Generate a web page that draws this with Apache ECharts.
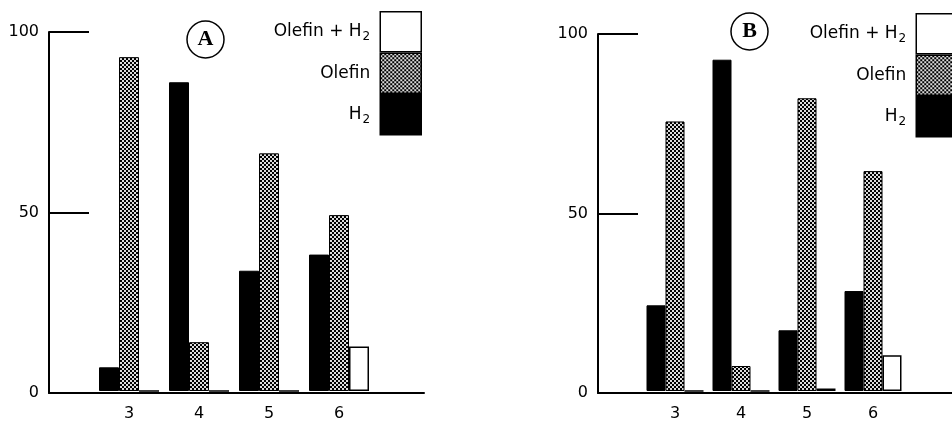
<!DOCTYPE html>
<html>
<head>
<meta charset="utf-8">
<script src="https://cdn.jsdelivr.net/npm/echarts@6/dist/echarts.min.js"></script>
<style>html,body{margin:0;padding:0;background:#fff}#c{width:952px;height:422px}</style>
</head>
<body>
<div id="c"></div>
<script>
// ---- data ----
const categories = ['3', '4', '5', '6'];
const seriesNames = ['H2', 'Olefin', 'Olefin + H2'];
const legendOrder = ['Olefin + H2', 'Olefin', 'H2'];
const panelLabels = ['A', 'B'];
const aH2 = [6.6, 86, 33.5, 38];
const aOlefin = [93, 13.6, 66.2, 49];
const aBoth = [0, 0, 0, 12.4];
const bH2 = [24, 92.8, 17, 28];
const bOlefin = [75.5, 7, 82, 61.6];
const bBoth = [0, 0, 0.7, 10];
const yMin = 0, yMax = 100, yStep = 50;

// ---- styles ----
function makePattern() {
  const c = document.createElement('canvas');
  c.width = 4; c.height = 4;
  const g = c.getContext('2d');
  g.fillStyle = '#dcdcdc'; g.fillRect(0, 0, 4, 4);
  g.fillStyle = '#000'; g.fillRect(0, 0, 2, 2); g.fillRect(2, 2, 2, 2);
  return c;
}
const pattern = { image: makePattern(), repeat: 'repeat' };
const FONT = 'DejaVu Sans';
const styles = {
  'H2': { color: '#000', borderColor: '#000', borderWidth: 1 },
  'Olefin': { color: pattern, borderColor: '#000', borderWidth: 1 },
  'Olefin + H2': { color: '#fff', borderColor: '#000', borderWidth: 1.5 }
};

const frames = [
  { left: 49, top: 32, width: 375, height: 361 },
  { left: 598, top: 34, width: 360, height: 359 }
];
const barGrids = [
  { left: 94, top: 32, width: 280, height: 361 },
  { left: 642, top: 34, width: 264, height: 359 }
];
const barW = [20, 19];
const panelData = [[aH2, aOlefin, aBoth], [bH2, bOlefin, bBoth]];

const grid = [], xAxis = [], yAxis = [], series = [];
for (let p = 0; p < 2; p++) {
  // frame grid (axes lines + y ticks)
  grid.push(Object.assign({ containLabel: false }, frames[p]));
  const fi = grid.length - 1;
  xAxis.push({
    gridIndex: fi, type: 'value', min: 0, max: 1,
    axisLine: { show: true, lineStyle: { color: '#000', width: 2 } },
    axisTick: { show: false }, axisLabel: { show: false }, splitLine: { show: false }
  });
  yAxis.push({
    gridIndex: fi, type: 'value', min: yMin, max: yMax, interval: yStep,
    axisLine: { show: true, lineStyle: { color: '#000', width: 2 } },
    axisTick: { show: true, inside: true, length: 40, lineStyle: { color: '#000', width: 2 } },
    axisLabel: { color: '#000', fontFamily: FONT, fontSize: 16, margin: 10 },
    splitLine: { show: false }
  });
  // bar grid
  grid.push(Object.assign({ containLabel: false }, barGrids[p]));
  const bi = grid.length - 1;
  xAxis.push({
    gridIndex: bi, type: 'category', data: categories,
    axisLine: { show: false }, axisTick: { show: false },
    axisLabel: { color: '#000', fontFamily: FONT, fontSize: 16, margin: 15 }
  });
  yAxis.push({ gridIndex: bi, type: 'value', min: yMin, max: yMax, show: false });
  for (let s = 0; s < 3; s++) {
    series.push({
      type: 'bar', name: seriesNames[s],
      xAxisIndex: bi, yAxisIndex: bi,
      data: panelData[p][s],
      barWidth: barW[p], barGap: '0%',
      itemStyle: styles[seriesNames[s]]
    });
  }
}

const legendCommon = {
  orient: 'vertical', align: 'right', icon: 'rect',
  itemWidth: 41, itemHeight: 40, itemGap: 0, padding: 0,
  selectedMode: false, data: legendOrder,
  itemStyle: { borderColor: '#000', borderWidth: 1.5 },
  formatter: function (n) { return '{n|' + n.replace('H2', 'H') + '}' + (n.indexOf('H2') >= 0 ? '{s|2}' : ''); },
  textStyle: {
    padding: [0, 5, 0, 0],
    rich: {
      n: { fontFamily: FONT, fontSize: 17, color: '#000', lineHeight: 22 },
      s: { fontFamily: FONT, fontSize: 12, color: '#000', lineHeight: 12, verticalAlign: 'bottom', padding: [9, 0, 0, 1] }
    }
  }
};

const titleCommon = (txt) => ({
  text: '{c|' + txt + '}', padding: 0,
  textStyle: {
    rich: {
      c: {
        width: 37, height: 37, lineHeight: 37, align: 'center',
        borderWidth: 1.5, borderColor: '#000', borderRadius: 20,
        fontFamily: 'Liberation Serif', fontWeight: 'bold', fontSize: 22, color: '#000'
      }
    }
  }
});

const option = {
  animation: false,
  backgroundColor: '#fff',
  title: [
    Object.assign(titleCommon(panelLabels[0]), { left: 187, top: 21 }),
    Object.assign(titleCommon(panelLabels[1]), { left: 731, top: 13 })
  ],
  legend: [
    Object.assign({}, legendCommon, { right: 530, top: 11 }),
    Object.assign({}, legendCommon, { right: -6, top: 13 })
  ],
  grid, xAxis, yAxis, series
};
const chart = echarts.init(document.getElementById('c'));
chart.setOption(option);
</script>
</body>
</html>
